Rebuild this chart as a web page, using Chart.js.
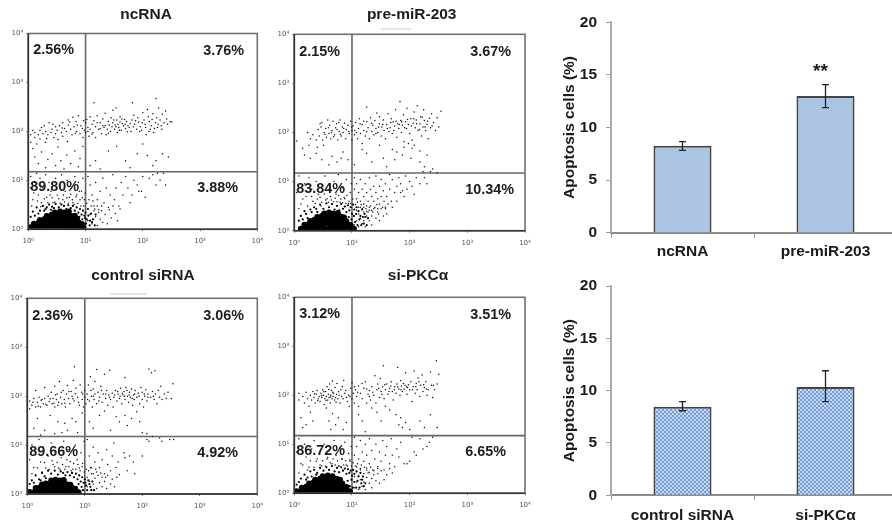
<!DOCTYPE html>
<html>
<head>
<meta charset="utf-8">
<title>Apoptosis flow cytometry</title>
<script src="https://cdn.jsdelivr.net/npm/chart.js@4"></script>
<style>
  html, body { margin: 0; padding: 0; background: #fff; overflow: hidden; width: 892px; height: 525px; }
  canvas { position: absolute; filter: blur(0.4px); }
</style>
</head>
<body>
<script>
// tick labels for the cytometry axes
const decades = [1, 10, 100, 1000, 10000];
const decadeLabels = ['10⁰', '10¹', '10²', '10³', '10⁴'];

// gate lines, same for all four plots
const gateX = [10];
const gateY = [15];

// quadrant percentages: upper left, upper right, lower left, lower right
const ncPercents = ['2.56%', '3.76%', '89.80%', '3.88%'];
const preMirPercents = ['2.15%', '3.67%', '83.84%', '10.34%'];
const controlPercents = ['2.36%', '3.06%', '89.66%', '4.92%'];
const siPkcPercents = ['3.12%', '3.51%', '86.72%', '6.65%'];

// events as [FL1, FL2]
const ncDots = [
  [1.1,60],[1.1,85],[1.2,45],[1.3,75],[1.3,95],[1.5,85],[1.6,70],[1.6,105],[1.8,90],[1.9,130],[2,60],[2,100],[2.2,85],[2.3,150],[2.5,95],[2.6,110],[2.8,75],[3,90],[3,125],[3.2,105],[3.5,130],[3.8,95],[4,80],[4,150],[4.3,115],[4.6,100],[5,135],[5,170],[5.5,110],[5.8,85],[6,195],[6.3,125],[6.8,160],[7,100],[7.5,210],[8,90],[8.3,130],[8.8,115],[9,75],[9.5,105],[10,95],[10,150],[10.5,175],[11,120],[11.5,80],[12,200],[12,110],[13,140],[13.5,95],[14,165],[14,385],[15,125],[15,75],[16,210],[17,110],[18,150],[19,90],[20,180],[20,130],[21,120],[22,235],[23,85],[24,110],[25,160],[26,135],[27,100],[28,190],[29,125],[30,150],[30,270],[32,110],[33,135],[34,300],[35,170],[36,95],[37,140],[38,120],[40,155],[40,200],[42,105],[44,145],[46,130],[48,175],[50,115],[52,160],[55,130],[60,145],[62,100],[65,170],[66,385],[68,125],[70,215],[72,140],[78,110],[82,190],[85,155],[90,125],[95,105],[100,240],[105,170],[110,140],[115,85],[120,280],[125,200],[130,160],[135,110],[140,130],[150,230],[155,95],[165,150],[170,470],[175,190],[180,120],[190,300],[200,170],[210,130],[220,225],[235,150],[250,260],[270,140],[300,160],[320,155],
  [1.2,105],[1.4,55],[1.7,120],[2.1,72],[2.7,140],[3.3,68],[3.9,118],[4.8,62],[5.3,155],[6.6,92],[7.2,135],[9.2,165],[11,100],[13,88],[16,150],[18,115],[22,130],[25,92],[31,170],[34,125],[39,105],[43,180],[49,140],[54,98],[58,120],[75,165],[88,100],[98,150],[112,120],[128,100],[145,175],[160,115],[185,140],[215,110],[260,180],
  [1.3,30],[1.5,22],[1.7,38],[2,18],[2.2,27],[2.6,35],[3,20],[3.3,48],[3.7,25],[4.2,17],[4.7,33],[5.5,22],[6.5,40],[7.5,19],[8,28],[9,50],[12,20],[15,25],[18,17],[25,40],[35,50],[50,25],[60,18],[80,35],[100,55],[120,32],[150,20],[170,25],[220,35],[280,30],
  [11,12],[12,8],[13,5],[14,3],[15,9],[16,4],[17,2.5],[18,6],[20,11],[21,3.5],[23,7],[25,2.8],[27,5],[30,13],[32,4],[34,7],[38,3],[42,9],[45,5],[50,12],[55,7],[60,3.5],[65,5],[70,10],[80,8],[85,6],[95,6],[100,12],[110,4.5],[130,11],[150,13],[170,8],[180,14],[200,10],[230,14],[250,8],
  [11,1.5],[12,2],[13,1.3],[14,2.4],[15,1.8],[16,1.2],[17,2.2],[18,1.6],[19,3],[20,1.4],[22,2],[24,1.3],[26,2.5],[28,1.7],[30,3],[33,2.1],[36,1.5],[40,2.6],
  [1.1,12],[1.1,7],[1.2,4],[1.3,9],[1.4,14],[1.5,5],[1.6,11],[1.7,3.5],[1.8,7],[2,13],[2.1,4.5],[2.3,9],[2.5,6],[2.7,3.5],[3,11],[3.2,5],[3.5,8],[3.8,13],[4,4],[4.4,6],[4.8,10],[5.2,4.5],[5.7,7],[6,3.5],[6.5,12],[7,5],[7.5,9],[8,4],[8.5,6],[9,11],[9.5,4],
  [1.15,3],[1.25,5.5],[1.45,3.8],[1.65,2.9],[1.9,4.2],[2.2,3.5],[2.4,5],[2.6,4.4],[2.9,3.6],[3.1,6.5],[3.4,4.2],[3.6,3.4],[4.1,5],[4.3,3.6],[4.7,4.4],[5,3.4],[5.5,5.2],[5.9,4],[6.3,3.2],[6.8,4.6],[7.3,3.4],[7.8,6],[8.3,3],[8.8,4.4],[9.3,3],[9.8,5.5],[10.5,3.4],[11.5,4],[12.5,3],[13.5,3.8],[14.5,2.6],[16,3],[19,2.4]
];
const ncEdge = [
  [1.2,2.3],[1.4,2.8],[1.6,2.4],[1.8,3],[2,2.6],[2.3,3.2],[2.6,2.9],[3,3.3],[3.4,2.8],[3.8,3.2],[4.2,3],[4.6,2.6],[5,3.1],[5.5,2.7],[6,3],[6.5,2.4],[7,2.8],[7.5,2.2],[8,2.6],[8.5,2],[9,2.4],[9.5,1.9],[10,2.2],[10.5,1.6],[11,2.6],[12,1.5],[12.5,2.1],[13.5,1.6],[14.5,1.2],[15,2],
  [1.1,1.8],[1.3,1.9],[1.5,2.1],[1.9,2.4],[2.1,2.8],[2.5,2.5],[2.8,2.7],[7.8,1.8],[8.8,1.6],[9.2,1.3],[9.8,1.7],[10.2,1.3],[11.2,1.9],[11.8,1.2],[13,1.4]
];
const ncCore = [
  [1.1,1.1],[1.3,1.12],[1.55,1.08],[1.8,1.1],[2.15,1.12],[2.5,1.08],[3,1.1],[3.5,1.12],[4.2,1.08],[4.9,1.1],[5.8,1.12],[6.8,1.08],[8,1.1],[9.2,1.08],
  [1.25,1.3],[1.5,1.36],[1.75,1.3],[2.1,1.38],[2.45,1.32],[2.9,1.38],[3.4,1.32],[4,1.38],[4.7,1.32],[5.5,1.38],[6.5,1.32],[7.6,1.36],[8.6,1.28],
  [1.6,1.55],[1.95,1.65],[2.3,1.58],[2.7,1.68],[3.2,1.6],[3.75,1.68],[4.4,1.6],[5.2,1.68],[6.1,1.58],[7.1,1.62],
  [2.1,1.86],[2.55,1.98],[3,1.9],[3.5,2],[4.1,1.9],[4.8,2],[5.6,1.88],[6.5,1.9],
  [2.9,2.2],[3.6,2.3],[4.3,2.2],[5.1,2.3]
];

const preMirDots = [
  [1.1,67],[1.7,100],[1.9,75],[2.1,90],[2.4,70],[2.6,115],[2.7,85],[2.9,130],[3,160],[3.1,70],[3.3,100],[3.5,120],[3.6,80],[3.8,180],[4,95],[4.1,140],[4.3,75],[4.5,110],[4.7,170],[5,90],[5.2,125],[5.4,150],[5.7,70],[6,105],[6.2,180],[6.5,85],[6.8,130],[7,100],[7.4,155],[7.8,75],[8,115],[8.5,140],[9,95],[9.5,170],[10,70],[10,110],[10.5,135],[11,90],[11.5,160],[12,100],[12.5,75],[13,120],[13.5,190],[14,95],[15,145],[15,60],[16,110],[17,85],[18,165],[18,330],[19,125],[20,75],[21,200],[22,105],[23,140],[24,90],[25,175],[26,120],[27,250],[28,100],[30,150],[30,210],[32,85],[33,130],[35,180],[36,110],[38,75],[40,145],[42,240],[44,105],[46,125],[48,190],[50,95],[52,165],[55,135],[57,290],[60,80],[62,150],[65,120],[68,430],[70,175],[72,100],[75,140],[78,230],[80,65],[85,165],[88,120],[90,310],[95,145],[100,95],[105,190],[110,70],[115,155],[120,260],[125,125],[130,180],[135,350],[140,110],[150,150],[155,210],[160,85],[170,130],[175,290],[180,175],[190,110],[200,145],[210,75],[220,195],[230,125],[240,240],[260,160],[280,110],[300,200],[320,130],[350,270],
  [2.8,150],[3.4,92],[3.9,125],[4.4,100],[4.8,82],[5.5,115],[5.9,160],[6.3,92],[7.2,120],[8.8,105],[9.8,130],[11.2,110],[13.8,150],[16,170],[18,105],[22,155],[26,95],[29,130],[34,145],[41,120],[47,160],[53,110],[58,170],[66,145],[73,165],[82,125],[92,185],[108,135],[118,190],[132,150],[148,115],[165,205],[185,130],[205,170],[245,135],
  [1.4,48],[1.5,35],[1.8,55],[1.9,30],[2.4,38],[2.5,50],[3,28],[3.2,55],[4,22],[4.5,33],[5.5,25],[6.5,30],[7,40],[8.5,28],[11,22],[15,45],[18,38],[22,25],[30,55],[35,30],[40,20],[50,45],[55,28],[60,40],[75,35],[80,50],[95,60],[105,30],[110,48],[120,55],[150,42],[180,20],[200,35],[150,25],[250,18],
  [11,12],[11,7],[12,9],[12,4.5],[13,3],[13,6],[14,11],[14,4],[15,7],[15,2.8],[16,5],[16,3.5],[17,9],[18,2.5],[18,6],[19,4],[20,12],[20,3],[21,7],[22,5],[22,2.6],[24,4],[24,8],[25,3],[26,6],[26,13],[28,4.5],[28,2.8],[30,8],[30,3.5],[32,5],[32,11],[34,3],[35,6.5],[36,4],[38,9],[38,2.8],[40,5],[42,3.5],[45,7],[45,14],[48,4],[50,3],[50,11],[55,6],[60,4],[60,8],[65,12],[70,6],[70,9],[75,6.5],[80,5],[85,13],[90,7],[100,10],[110,8],[120,5.5],[130,12],[150,9],[170,16],[180,12],[200,9],[230,16],[300,15],
  [11,1.3],[11,2],[12,1.6],[12,2.6],[13,1.2],[13,2.2],[14,1.8],[14,3],[15,1.4],[16,2.4],[16,1.6],[17,1.2],[18,2],[18,3.2],[20,1.6],[20,2.6],[22,1.3],[22,2],[24,2.8],[26,1.8],[28,2.4],[30,1.6],[32,2.8],[35,2],[38,3],[40,2.2],
  [1.1,6],[1.2,13],[1.3,3.5],[1.5,9],[1.6,5],[1.8,12],[2,7],[2.1,4],[2.4,10],[2.6,5.5],[2.9,3.2],[3.1,8],[3.4,13],[3.7,4.5],[4,7],[4.5,3.5],[4.9,10],[5.3,5.5],[5.8,14],[6.2,3.8],[6.8,7.5],[7.5,4.5],[8,11],[8.7,3.6],[9.3,6],[9.7,9],
  [1.2,2.8],[1.4,4.4],[1.7,3.2],[2,5],[2.3,3.6],[2.5,4.4],[2.8,4.8],[3,3.8],[3.3,5.6],[3.5,4.2],[3.9,3.8],[4.2,5],[4.4,4.2],[4.8,3.9],[5.1,4.6],[5.5,3.9],[5.9,5.2],[6.4,4.4],[6.9,3.7],[7.3,4.8],[7.8,3.6],[8.2,5.2],[8.9,4],[9.5,3.6],[10.3,4.4],[11.5,3.4],[12.5,3.8],[14.5,3.4],[16,3],[17.5,2.8],[19,2.4],[21,3.2],[23,2.4],[27,3.4],[29,2.2]
];
const preMirEdge = [
  [1.3,2],[1.5,2.5],[1.7,1.8],[1.9,2.7],[2.2,3],[2.5,2.4],[2.8,3.4],[3.2,2.8],[3.6,3.6],[4,3],[4.5,3.5],[5,2.7],[5.5,3.2],[6,2.6],[6.5,3.5],[7,2.8],[7.5,3.1],[8,2.4],[8.5,3.3],[9,2.6],[9.5,3],[10,2.2],[10.5,3.4],[11,2.7],[12,3],[13,2.5],[14,2],[15,2.7],[16,1.4],[17,1.9],
  [1.2,1.6],[1.4,1.7],[1.6,2.2],[2,2.4],[2.4,2.8],[8.8,1.9],[9.2,1.4],[9.8,1.7],[10.3,1.3],[10.8,2],[11.3,1.5],[11.8,2.2],[12.5,1.3],[13.5,1.7],[14.5,1.3],[15.5,1.9],[16.5,2.2],[18,1.3],[19,1.8]
];
const preMirCore = [
  [1.3,1.1],[1.55,1.08],[1.8,1.12],[2.15,1.08],[2.5,1.12],[3,1.1],[3.5,1.08],[4.2,1.12],[4.9,1.1],[5.8,1.08],[6.8,1.12],[8,1.1],[9.4,1.08],[10.8,1.1],
  [1.5,1.32],[1.8,1.38],[2.15,1.32],[2.5,1.38],[3,1.32],[3.5,1.38],[4.2,1.32],[4.9,1.38],[5.8,1.32],[6.8,1.38],[8.1,1.32],[9.4,1.3],
  [1.9,1.58],[2.25,1.68],[2.65,1.6],[3.1,1.68],[3.65,1.6],[4.3,1.68],[5,1.6],[5.9,1.68],[6.9,1.6],[8,1.55],
  [2.5,1.9],[3,2],[3.5,1.92],[4.1,2],[4.8,1.92],[5.6,2],[6.5,1.92],[7.3,1.86],
  [3.3,2.25],[4,2.35],[4.8,2.25],[5.7,2.3]
];

const controlDots = [
  [1.1,80],[1.1,55],[1.2,65],[1.3,90],[1.4,130],[1.4,60],[1.5,75],[1.6,95],[1.7,60],[1.8,85],[1.9,70],[2,150],[2,90],[2.2,65],[2.3,100],[2.4,78],[2.6,120],[2.7,70],[2.8,90],[3,60],[3,160],[3.2,85],[3.3,110],[3.5,75],[3.6,200],[3.8,95],[4,70],[4.2,130],[4.4,85],[4.6,60],[4.8,110],[5,165],[5.2,90],[5.5,70],[5.8,125],[6,100],[6.3,210],[6.5,80],[6.6,400],[7,145],[7.5,95],[8,65],[8.3,170],[8.8,120],[9,85],[9.5,60],[10,130],[10,95],[10.5,70],[11,110],[11.5,170],[12,80],[12.5,250],[13,100],[13.5,60],[14,140],[14.5,85],[15,200],[15,110],[16,350],[16,70],[17,120],[18,95],[19,160],[20,75],[21,110],[22,280],[23,90],[24,130],[25,65],[26,105],[27,340],[28,85],[30,115],[31,60],[32,95],[34,130],[36,80],[38,110],[40,90],[42,145],[44,70],[46,105],[48,125],[50,85],[50,240],[52,150],[55,100],[58,75],[60,120],[62,95],[65,140],[68,65],[70,105],[72,85],[75,130],[80,95],[85,115],[90,70],[95,150],[100,85],[100,120],[105,60],[110,100],[115,135],[120,80],[125,110],[130,360],[140,95],[145,300],[150,125],[160,85],[165,330],[170,110],[180,70],[190,130],[200,95],[210,160],[220,85],[240,110],[260,90],[280,120],[320,90],[340,180],
  [1.25,75],[1.55,62],[1.75,82],[2.1,68],[2.5,88],[2.9,72],[3.1,105],[3.4,65],[3.9,120],[4.5,72],[5.3,125],[6.2,88],[6.8,112],[7.8,75],[9.2,110],[11.2,85],[12.8,130],[14.2,100],[17.5,80],[19.5,130],[23,110],[27,95],[33,105],[37,125],[41,100],[45,115],[49,100],[54,130],[59,105],[66,90],[74,110],[88,100],[108,110],[125,95],[155,100],
  [1.3,22],[1.5,35],[1.7,16],[2,20],[2.5,40],[3,17],[3.4,30],[4,18],[4.5,28],[5,20],[6,35],[7,30],[7.5,18],[9,45],[12,30],[14,22],[18,40],[22,50],[28,20],[35,38],[40,30],[50,40],[55,25],[65,35],[80,48],[90,30],[100,18],[120,17],
  [11,13],[12,6],[13,3.5],[14,9],[15,4.5],[16,2.8],[17,7],[18,3.5],[20,5],[22,2.6],[24,8],[25,4],[28,3],[30,6],[32,11],[35,3.5],[38,4.5],[40,2.5],[48,7],[50,5.5],[55,3],[60,6],[70,4.5],[74,2.6],[100,6],[120,13],[130,12],[150,15],[200,14],[220,12],[300,13],[350,13],
  [11,1.4],[11,2.2],[12,1.8],[13,1.2],[13,2.6],[14,1.6],[15,2.1],[16,1.3],[17,2.4],[18,1.7],[20,1.4],[20,2.2],[22,1.8],[24,1.3],[25,2.4],[28,1.6],[30,2],[33,1.4],[36,2.2],
  [1.1,5],[1.2,10],[1.3,3.5],[1.4,7],[1.6,13],[1.7,4.5],[1.9,9],[2.1,3.4],[2.3,6],[2.6,11],[2.8,4],[3.1,7.5],[3.5,3.4],[3.9,5.5],[4.3,12],[4.7,3.6],[5.1,8],[5.6,4.6],[6.2,3.2],[6.8,10],[7.4,5],[8,3.4],[8.6,7],[9.2,4.2],[9.7,12],
  [1.2,2.6],[1.5,3.4],[1.8,2.8],[2,4.4],[2.4,3.2],[2.7,4.8],[3,3.6],[3.3,4.4],[3.7,3.2],[4.1,4],[4.5,3.2],[4.9,5],[5.3,3.6],[5.8,3],[6.4,4.2],[7,3.2],[7.6,4],[8.3,3],[9,3.6],[9.8,2.8],[10.6,3.2],[11.6,3],[12.6,3.4],[14,2.6],[15.5,3.2],[19,2.7],[23,2.2]
];
const controlEdge = [
  [1.2,1.9],[1.4,2.4],[1.6,2],[1.8,2.7],[2,2.3],[2.3,3],[2.6,2.6],[3,3],[3.4,2.5],[3.8,2.9],[4.2,2.7],[4.6,2.4],[5,2.8],[5.5,2.4],[6,2.7],[6.5,2.2],[7,2.6],[7.5,2],[8,2.4],[8.5,1.8],[9,2.2],[9.5,1.7],[10,2],[10.5,1.5],[11.5,1.9],[12.5,1.4],[13.5,1.8],[14.5,1.2],
  [1.1,1.6],[1.3,1.7],[1.7,1.9],[2.1,2.1],[7.8,1.6],[8.8,1.4],[9.3,1.2],[10.2,1.7],[11,1.2],[12,1.6],[13,1.2]
];
const controlCore = [
  [1.1,1.1],[1.3,1.08],[1.55,1.12],[1.8,1.08],[2.15,1.12],[2.5,1.1],[3,1.08],[3.5,1.12],[4.2,1.1],[4.9,1.08],[5.8,1.12],[6.8,1.1],[7.8,1.08],
  [1.4,1.32],[1.65,1.36],[1.9,1.3],[2.2,1.38],[2.6,1.32],[3.1,1.38],[3.6,1.32],[4.3,1.38],[5,1.32],[5.9,1.36],[6.8,1.28],
  [1.8,1.56],[2.1,1.64],[2.5,1.58],[3,1.66],[3.5,1.58],[4.1,1.64],[4.8,1.58],[5.6,1.55],
  [2.6,1.88],[3.1,1.96],[3.7,1.88],[4.3,1.94]
];

const siPkcDots = [
  [1.2,110],[1.2,80],[1.4,95],[1.5,70],[1.6,115],[1.7,85],[1.8,60],[1.9,100],[2,80],[2.1,120],[2.2,90],[2.3,70],[2.4,105],[2.5,125],[2.6,85],[2.7,95],[2.8,75],[2.9,110],[3,90],[3.1,130],[3.2,100],[3.3,65],[3.4,85],[3.5,120],[3.6,95],[3.7,150],[3.8,80],[3.9,105],[4,90],[4.1,170],[4.2,70],[4.3,100],[4.4,125],[4.5,85],[4.6,195],[4.7,95],[4.8,110],[5,80],[5.1,145],[5.2,90],[5.4,105],[5.5,175],[5.7,85],[6,100],[6.2,70],[6.4,130],[6.6,95],[7,85],[7.2,200],[7.5,110],[8,90],[8.3,75],[8.8,100],[9,60],[9.5,140],[10,85],[10,180],[10.5,110],[11,70],[11.5,130],[12,95],[13,155],[13,60],[14,110],[15,85],[16,140],[17,190],[18,70],[19,105],[20,125],[21,80],[22,150],[24,100],[25,250],[26,70],[27,130],[28,170],[30,90],[31,220],[32,120],[34,150],[35,400],[36,85],[38,130],[40,170],[42,105],[45,140],[48,190],[50,120],[52,80],[55,150],[58,110],[60,170],[62,370],[65,135],[68,100],[70,200],[72,155],[75,120],[78,175],[80,135],[85,290],[88,150],[90,105],[95,165],[100,130],[105,190],[110,75],[115,150],[120,315],[125,110],[130,175],[135,130],[140,225],[150,95],[155,160],[165,260],[170,120],[180,145],[190,190],[200,100],[210,130],[230,300],[240,160],[250,90],[270,130],[290,510],[300,170],[320,270],
  [2.25,108],[2.55,78],[2.95,98],[3.25,118],[3.55,78],[3.95,132],[4.25,92],[4.65,115],[5.3,72],[5.9,118],[6.8,150],[7.8,125],[9.2,95],[11,150],[12.5,115],[15,175],[18,135],[20,95],[23,115],[29,140],[33,105],[37,165],[44,120],[47,155],[54,130],[62,150],[71,130],[83,160],[92,145],[112,130],[128,150],[145,190],[175,165],[195,135],[260,160],
  [1.3,35],[1.4,22],[1.6,25],[1.9,45],[2.1,30],[3.6,55],[4,30],[4.3,20],[4.6,42],[5.2,25],[5.8,35],[7,20],[8,28],[13,40],[15,30],[17,18],[22,55],[27,45],[32,30],[38,60],[45,50],[58,40],[65,25],[70,35],[75,22],[85,28],[100,20],[150,30],[180,22],[230,40],[300,22],
  [11,14],[11,6],[12,9],[12,3.5],[13,5],[14,12],[14,3],[15,7],[16,4.5],[17,10],[18,3],[18,6],[20,13],[20,4],[22,7.5],[23,3],[25,5],[26,10],[28,3.5],[30,7],[32,4.5],[34,12],[36,3],[38,6],[40,9],[45,4],[48,13],[50,6],[55,3.5],[60,8],[65,5.5],[70,11],[80,4],[90,4],[100,4.5],[110,14],[120,7],[130,6],[150,13],[170,8],[200,9],[220,11],[250,14],
  [11,1.3],[11,2.2],[12,1.7],[12,2.8],[13,1.2],[13,2.3],[14,1.9],[14,3.2],[15,1.4],[16,2.5],[16,1.7],[17,1.2],[18,2.1],[18,3.3],[20,1.6],[20,2.7],[22,1.3],[22,2],[24,2.9],[26,1.8],[28,2.5],[30,1.6],[32,2.9],[36,1.9],[40,2.4],[45,3.2],[50,2.6],
  [1.1,7],[1.2,13],[1.3,4],[1.5,10],[1.6,5.5],[1.8,3.4],[2,8],[2.2,12],[2.4,4.5],[2.7,6.5],[3,3.6],[3.3,10],[3.7,5],[4,7.5],[4.5,4],[4.9,12],[5.3,6],[5.8,3.6],[6.2,8.5],[6.8,5],[7.5,11],[8,3.8],[8.7,6.5],[9.3,4.5],[9.7,9],
  [1.2,2.6],[1.4,3.8],[1.7,3],[1.9,4.6],[2.2,3.4],[2.5,5],[2.8,3.8],[3.1,4.6],[3.5,3.6],[3.8,5.4],[4.2,4.2],[4.7,5],[5.1,3.8],[5.6,4.6],[6,3.6],[6.6,5],[7.2,3.8],[7.8,4.6],[8.4,3.6],[9.1,4.8],[9.8,3.6],[10.5,4.2],[11.5,3.6],[12.5,4],[14.5,3.8],[16.5,3.4],[19,2.6],[21,3.4],[24,2.4],[28,3.2]
];
const siPkcEdge = [
  [1.3,2],[1.5,2.4],[1.7,2.1],[1.9,2.8],[2.2,3],[2.5,2.6],[2.8,3.3],[3.2,2.9],[3.6,3.4],[4,3],[4.5,3.6],[5,2.8],[5.5,3.3],[6,2.7],[6.5,3.4],[7,2.9],[7.5,3.2],[8,2.5],[8.5,3.1],[9,2.6],[9.5,2.9],[10,2.3],[10.5,3],[11,2.5],[12,2.8],[13,2.2],[14,2.6],[15,1.9],[16,1.4],
  [1.1,1.5],[1.2,1.7],[1.6,1.9],[2,2.2],[2.4,2.4],[8.4,1.8],[9.2,1.4],[9.8,1.9],[10.3,1.3],[11,1.7],[11.8,1.3],[12.5,1.8],[13.5,1.3],[14.5,1.6],[15.5,2.2],[17,1.6]
];
const siPkcCore = [
  [1.1,1.1],[1.3,1.08],[1.55,1.12],[1.8,1.08],[2.15,1.12],[2.5,1.1],[3,1.08],[3.5,1.12],[4.2,1.1],[4.9,1.08],[5.8,1.12],[6.8,1.1],[8,1.08],[9.2,1.1],
  [1.35,1.3],[1.6,1.36],[1.85,1.3],[2.2,1.38],[2.55,1.32],[3,1.38],[3.5,1.32],[4.2,1.38],[4.9,1.32],[5.8,1.38],[6.8,1.32],[8,1.34],
  [1.8,1.58],[2.15,1.66],[2.5,1.58],[3,1.68],[3.5,1.6],[4.2,1.68],[4.9,1.6],[5.8,1.66],[6.8,1.58],
  [2.3,1.9],[2.8,1.98],[3.3,1.9],[3.9,2],[4.6,1.92],[5.4,1.98],[6.2,1.88],
  [3.1,2.22],[3.8,2.32],[4.6,2.24]
];

// bar panels
const topCategories = ['ncRNA', 'pre-miR-203'];
const topMeans = [8.27, 13.0];
const topErrLow = [7.83, 11.88];
const topErrHigh = [8.65, 14.07];
const bottomCategories = ['control siRNA', 'si-PKCα'];
const bottomMeans = [8.47, 10.35];
const bottomErrLow = [8.08, 8.95];
const bottomErrHigh = [8.95, 11.9];

function addCanvas(box) {
  const c = document.createElement('canvas');
  c.width = box.width;
  c.height = box.height;
  c.style.left = box.left + 'px';
  c.style.top = box.top + 'px';
  document.body.appendChild(c);
  return c;
}

// box border, title and the percentages inside each cytometry plot
const quadrantPlugin = {
  id: 'quadrants',
  afterDraw(chart, args, opts) {
    const { ctx, chartArea: a } = chart;
    ctx.save();
    ctx.strokeStyle = '#707070';
    ctx.lineWidth = 1.6;
    ctx.strokeRect(a.left, a.top, a.width, a.height);
    ctx.strokeStyle = '#333';
    ctx.beginPath();
    ctx.moveTo(a.left, a.top);
    ctx.lineTo(a.left, a.bottom);
    ctx.lineTo(a.right, a.bottom);
    ctx.stroke();
    ctx.fillStyle = '#1c1c1c';
    ctx.textBaseline = 'middle';
    ctx.font = 'bold 14.4px "Liberation Sans", Arial, sans-serif';
    opts.percents.forEach((text, i) => {
      ctx.fillText(text, a.left + opts.offsets[i][0], a.top + opts.offsets[i][1]);
    });
    ctx.font = 'bold 15.5px "Liberation Sans", Arial, sans-serif';
    ctx.textAlign = 'center';
    ctx.fillText(opts.title, opts.titleX, opts.titleY);
    if (opts.smudge) {
      ctx.strokeStyle = '#ccc';
      ctx.lineWidth = 1;
      ctx.beginPath();
      ctx.moveTo(opts.smudge[0], opts.smudge[2]);
      ctx.lineTo(opts.smudge[1], opts.smudge[2]);
      ctx.stroke();
    }
    ctx.restore();
  }
};

function makeFlowPlot(p) {
  const canvas = addCanvas(p.box);
  const yAxisWidth = 20;
  const xAxisHeight = 16;
  new Chart(canvas, {
    type: 'scatter',
    data: {
      datasets: [
        { data: p.core.map(d => ({ x: d[0], y: d[1] })), pointRadius: 3, pointBackgroundColor: '#000', pointBorderWidth: 0 },
        { data: p.edge.map(d => ({ x: d[0], y: d[1] })), pointRadius: 1.1, pointBackgroundColor: '#000', pointBorderWidth: 0 },
        { data: p.dots.map(d => ({ x: d[0], y: d[1] })), pointRadius: 0.75, pointBackgroundColor: '#111', pointBorderWidth: 0 },
        { data: [{ x: gateX[0], y: decades[0] }, { x: gateX[0], y: decades[4] }], type: 'line', showLine: true, pointRadius: 0, borderColor: '#666', borderWidth: 1.6 },
        { data: [{ x: decades[0], y: gateY[0] }, { x: decades[4], y: gateY[0] }], type: 'line', showLine: true, pointRadius: 0, borderColor: '#666', borderWidth: 1.6 }
      ]
    },
    plugins: [quadrantPlugin],
    options: {
      responsive: false,
      animation: false,
      events: [],
      layout: {
        padding: {
          left: p.area.left - p.box.left - yAxisWidth,
          right: p.box.left + p.box.width - p.area.right,
          top: p.area.top - p.box.top,
          bottom: p.box.top + p.box.height - p.area.bottom - xAxisHeight
        }
      },
      plugins: {
        legend: { display: false },
        tooltip: { enabled: false },
        quadrants: {
          percents: p.percents, offsets: p.offsets, smudge: p.smudge, title: p.title,
          titleX: p.titleX - p.box.left, titleY: p.titleY - p.box.top
        }
      },
      scales: {
        x: {
          type: 'logarithmic',
          min: decades[0],
          max: decades[4],
          afterBuildTicks: s => { s.ticks = decades.map(v => ({ value: v, major: true })); },
          afterFit: s => { s.height = xAxisHeight; },
          grid: { drawOnChartArea: false, tickLength: 2, tickColor: '#777' },
          border: { color: '#666', width: 1 },
          ticks: {
            autoSkip: false,
            maxRotation: 0,
            padding: 6,
            color: '#555',
            font: { family: '"DejaVu Sans", sans-serif', size: 7 },
            callback: v => decadeLabels[decades.indexOf(v)]
          }
        },
        y: {
          type: 'logarithmic',
          min: decades[0],
          max: decades[4],
          afterBuildTicks: s => { s.ticks = decades.map(v => ({ value: v, major: true })); },
          afterFit: s => { s.width = yAxisWidth; },
          grid: { drawOnChartArea: false, tickLength: 2, tickColor: '#777' },
          border: { color: '#555', width: 1 },
          ticks: {
            autoSkip: false,
            padding: 3,
            color: '#555',
            font: { family: '"DejaVu Sans", sans-serif', size: 7 },
            callback: v => decadeLabels[decades.indexOf(v)]
          }
        }
      }
    }
  });
}

makeFlowPlot({
  title: 'ncRNA', dots: ncDots, edge: ncEdge, core: ncCore, percents: ncPercents,
  box: { left: 0, top: 0, width: 280, height: 262 },
  area: { left: 28.3, right: 257.3, top: 33.5, bottom: 229.3 },
  titleX: 146, titleY: 15,
  offsets: [[5, 17], [175, 17.5], [2, 153.5], [169, 154.5]]
});
makeFlowPlot({
  title: 'pre-miR-203', dots: preMirDots, edge: preMirEdge, core: preMirCore, percents: preMirPercents,
  box: { left: 270, top: 0, width: 270, height: 262 },
  area: { left: 294.3, right: 525, top: 34.3, bottom: 230.7 },
  titleX: 411.7, titleY: 15,
  offsets: [[5, 17.7], [176, 17.7], [2, 154.7], [171, 155.7]],
  smudge: [111, 141, 29]
});
makeFlowPlot({
  title: 'control siRNA', dots: controlDots, edge: controlEdge, core: controlCore, percents: controlPercents,
  box: { left: 0, top: 262, width: 280, height: 262 },
  area: { left: 27.3, right: 257.3, top: 298.3, bottom: 494 },
  titleX: 143, titleY: 275.7,
  offsets: [[5, 17.4], [176, 17.7], [2, 153.4], [170, 154.7]],
  smudge: [110, 147, 32]
});
makeFlowPlot({
  title: 'si-PKCα', dots: siPkcDots, edge: siPkcEdge, core: siPkcCore, percents: siPkcPercents,
  box: { left: 270, top: 262, width: 270, height: 262 },
  area: { left: 294.3, right: 525, top: 297.3, bottom: 493.3 },
  titleX: 418, titleY: 276,
  offsets: [[5, 16.7], [176, 17.7], [2, 153.4], [171, 154.7]]
});

// dithered fills for the bars
function ditherFill(a, b, cell) {
  const tile = document.createElement('canvas');
  tile.width = cell * 2;
  tile.height = cell * 2;
  const t = tile.getContext('2d');
  t.fillStyle = a;
  t.fillRect(0, 0, cell * 2, cell * 2);
  t.fillStyle = b;
  t.fillRect(0, 0, cell, cell);
  t.fillRect(cell, cell, cell, cell);
  return t.createPattern(tile, 'repeat');
}

// whiskers and optional significance mark
const errorBarPlugin = {
  id: 'errorBars',
  afterDatasetsDraw(chart, args, opts) {
    const { ctx, scales } = chart;
    ctx.save();
    ctx.strokeStyle = '#222';
    ctx.lineWidth = 1.3;
    opts.low.forEach((lo, i) => {
      const x = scales.x.getPixelForValue(i);
      const y0 = scales.y.getPixelForValue(lo);
      const y1 = scales.y.getPixelForValue(opts.high[i]);
      ctx.beginPath();
      ctx.moveTo(x, y0);
      ctx.lineTo(x, y1);
      ctx.moveTo(x - 3.5, y0);
      ctx.lineTo(x + 3.5, y0);
      ctx.moveTo(x - 3.5, y1);
      ctx.lineTo(x + 3.5, y1);
      ctx.stroke();
    });
    if (opts.mark) {
      ctx.font = 'bold 19px "Liberation Sans", Arial, sans-serif';
      ctx.fillStyle = '#1a1a1a';
      ctx.textAlign = 'center';
      ctx.textBaseline = 'middle';
      ctx.fillText(opts.mark.text, scales.x.getPixelForValue(opts.mark.index) - 5, scales.y.getPixelForValue(opts.mark.value) + 3);
    }
    ctx.restore();
  }
};

function makeBarPlot(p) {
  const canvas = addCanvas(p.box);
  const yAxisWidth = 51;
  const xAxisHeight = 32;
  new Chart(canvas, {
    type: 'bar',
    data: {
      labels: p.categories,
      datasets: [{
        data: p.means,
        backgroundColor: p.fill,
        borderColor: '#444',
        borderWidth: { top: 2, left: 2, right: 2, bottom: 0 },
        categoryPercentage: 1,
        barPercentage: 0.406
      }]
    },
    plugins: [errorBarPlugin],
    options: {
      responsive: false,
      animation: false,
      events: [],
      layout: {
        padding: {
          left: p.area.left - p.box.left - yAxisWidth,
          right: p.box.left + p.box.width - p.area.right,
          top: p.area.top - p.box.top,
          bottom: p.box.top + p.box.height - p.area.bottom - xAxisHeight
        }
      },
      plugins: {
        legend: { display: false },
        tooltip: { enabled: false },
        errorBars: { low: p.low, high: p.high, mark: p.mark }
      },
      scales: {
        x: {
          offset: true,
          afterFit: s => { s.height = xAxisHeight; },
          grid: { offset: true, drawOnChartArea: false, tickLength: 5, tickColor: '#999' },
          border: { color: '#8c8c8c', width: 2 },
          ticks: { padding: p.labelPad, maxRotation: 0, color: '#1a1a1a', font: { family: '"Liberation Sans", Arial, sans-serif', size: 15.5, weight: 'bold' } }
        },
        y: {
          min: 0,
          max: 20,
          afterFit: s => { s.width = yAxisWidth; },
          grid: { drawOnChartArea: false, tickLength: 5, tickColor: '#999' },
          border: { color: '#aaa', width: 2 },
          ticks: { stepSize: 5, padding: 9, color: '#1a1a1a', font: { family: '"Liberation Sans", Arial, sans-serif', size: 15.5, weight: 'bold' } },
          title: {
            display: true,
            text: 'Apoptosis cells (%)',
            color: '#1a1a1a',
            padding: 0,
            font: { family: '"Liberation Sans", Arial, sans-serif', size: 15.5, weight: 'bold' }
          }
        }
      }
    }
  });
}

makeBarPlot({
  categories: topCategories, means: topMeans, low: topErrLow, high: topErrHigh,
  fill: ditherFill('#a3bddf', '#b4cbe8', 1),
  mark: { text: '**', index: 1, value: 15.6 },
  box: { left: 540, top: 0, width: 370, height: 265 },
  area: { left: 611, right: 897, top: 22.3, bottom: 232.7 },
  labelPad: 5
});
makeBarPlot({
  categories: bottomCategories, means: bottomMeans, low: bottomErrLow, high: bottomErrHigh,
  fill: ditherFill('#6f9bdb', '#cbdbf3', 2),
  box: { left: 540, top: 265, width: 370, height: 260 },
  area: { left: 611, right: 897, top: 286, bottom: 495.3 },
  labelPad: 6
});
</script>
</body>
</html>
